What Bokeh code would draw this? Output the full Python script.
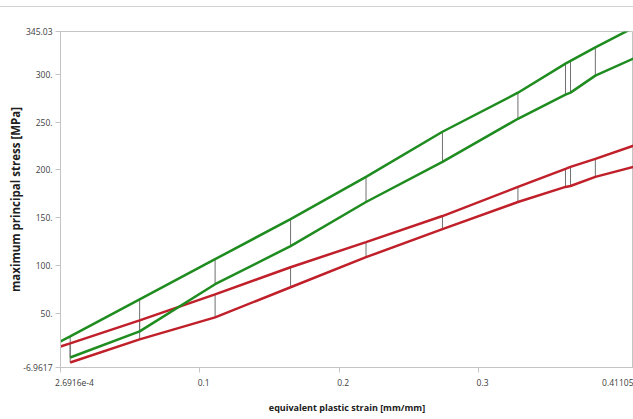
from bokeh.plotting import figure
from bokeh.models import Range1d, FixedTicker, LinearAxis, Div
from bokeh.layouts import column
from bokeh.embed import file_html
from bokeh.resources import INLINE

# ---- data ----
strain = [0.00027, 0.0072, 0.0570, 0.1111, 0.1652, 0.2193, 0.2741, 0.3282, 0.3623, 0.3659, 0.3837, 0.4110]
green_upper = [20.4, 25.6, 64.5, 106.5, 148.5, 192.7, 240.0, 280.9, 311.4, 314.3, 328.5, 349.0]
red_upper = [15.1, 18.3, 42.4, 69.7, 98.1, 124.4, 151.7, 182.2, 201.1, 203.2, 211.6, 225.3]
# lower curves start at strain[1]
green_lower = [3.5, 30.9, 80.3, 120.2, 166.4, 208.4, 253.6, 278.8, 281.0, 298.8, 316.7]
red_lower = [-1.7, 22.5, 45.6, 77.1, 108.6, 138.0, 166.4, 182.2, 183.2, 192.7, 203.2]

x_ticks = [0.00026916, 0.1, 0.2, 0.3, 0.41105]
x_tick_labels = ["2.6916e-4", "0.1", "0.2", "0.3", "0.41105"]
y_ticks = [-6.9617, 50, 100, 150, 200, 250, 300, 345.03]
y_tick_labels = ["-6.9617", "50.", "100.", "150.", "200.", "250.", "300.", "345.03"]

x_title = "equivalent plastic strain [mm/mm]"
y_title = "maximum principal stress [MPa]"

GREEN = "#1f8c1f"
RED = "#c0202a"
CONN = "#707070"
AXIS = "#c4c4c4"
TXT = "#404040"
FONT = "Open Sans"

W, H = 633, 411
LEFT, TOP, BOTTOM = 60, 24, 51
p = figure(width=W, height=H, output_backend="svg", toolbar_location=None,
           x_range=Range1d(x_ticks[0], x_ticks[-1]),
           y_range=Range1d(y_ticks[0], y_ticks[-1]),
           x_axis_location=None,
           min_border_left=LEFT, min_border_right=0, min_border_top=TOP, min_border_bottom=BOTTOM)
p.xgrid.visible = False
p.ygrid.visible = False
p.outline_line_color = AXIS
p.background_fill_color = "white"
p.border_fill_color = "white"

# connectors between upper and lower curves
cx = strain[1:-1]
p.segment(x0=cx, y0=green_upper[1:-1], x1=cx, y1=green_lower[:-1], line_color=CONN, line_width=1)
p.segment(x0=cx, y0=red_upper[1:-1], x1=cx, y1=red_lower[:-1], line_color=CONN, line_width=1)

p.line(strain[1:], red_lower, line_color=RED, line_width=2.5)
p.line(strain, red_upper, line_color=RED, line_width=2.5)
p.line(strain[1:], green_lower, line_color=GREEN, line_width=2.5)
p.line(strain, green_upper, line_color=GREEN, line_width=2.5)

# x axis: line + ticks (labels not painted)
xa = LinearAxis(ticker=FixedTicker(ticks=x_ticks), axis_line_color=AXIS,
                major_tick_line_color=AXIS, minor_tick_line_color=None,
                major_tick_in=0, major_tick_out=5, major_label_standoff=0,
                major_label_overrides={t: "" for t in x_ticks},
                major_label_text_color=None, major_label_text_font_size="1px")
p.add_layout(xa, "below")

# x axis labels: placed like the reference (ends aligned inward, others slightly right)
px_per_unit = (W - LEFT) / (x_ticks[-1] - x_ticks[0])
label_shift_px = [14, 4, 4, 4, -15]
label_pos = [x_ticks[i] + label_shift_px[i] / px_per_unit for i in range(len(x_ticks))]
xl = LinearAxis(ticker=FixedTicker(ticks=label_pos), axis_line_color=None,
                major_tick_line_color=None, minor_tick_line_color=None,
                major_tick_in=0, major_tick_out=0, major_label_standoff=6,
                major_label_overrides={label_pos[i]: x_tick_labels[i] for i in range(len(x_ticks))},
                major_label_text_font=FONT, major_label_text_font_size="8.5px",
                major_label_text_color=TXT,
                axis_label=x_title, axis_label_standoff=12, axis_label_text_font=FONT,
                axis_label_text_font_style="bold", axis_label_text_font_size="9px",
                axis_label_text_color="#202020")
p.add_layout(xl, "below")

ya = p.yaxis[0]
ya.ticker = FixedTicker(ticks=y_ticks)
ya.major_label_overrides = {y_ticks[i]: y_tick_labels[i] for i in range(len(y_ticks))}
ya.axis_line_color = AXIS
ya.major_tick_line_color = AXIS
ya.minor_tick_line_color = None
ya.major_tick_in = 0
ya.major_tick_out = 5
ya.major_label_standoff = 3
ya.major_label_text_font = FONT
ya.major_label_text_font_size = "8.5px"
ya.major_label_text_color = TXT
ya.axis_label = y_title
ya.axis_label_standoff = -3
ya.axis_label_text_font = FONT
ya.axis_label_text_font_style = "bold"
ya.axis_label_text_font_size = "11.5px"
ya.axis_label_text_color = "#202020"

top = Div(text="", width=W, height=7, margin=0,
          styles={"border-bottom": "1px solid #d2d2d2", "box-sizing": "border-box"})
layout = column(top, p, spacing=0)
layout.margin = 0

open("out.html", "w").write(file_html(layout, INLINE))
